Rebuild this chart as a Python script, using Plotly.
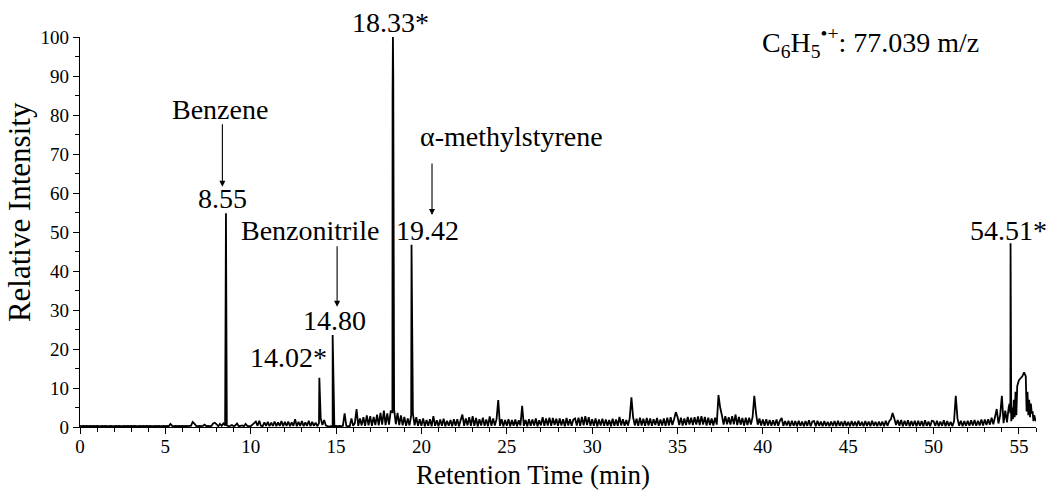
import plotly.graph_objects as go

# ---------------- data ----------------
# baseline signal on a 0.1-min grid (one row per minute: t.0 ... t.9)
baseline_rows = [
    [0.3, 0.2, 0.3, 0.2, 0.3, 0.2, 0.3, 0.2, 0.3, 0.2],   # 0
    [0.3, 0.2, 0.2, 0.3, 0.2, 0.3, 0.2, 0.2, 0.3, 0.2],   # 1
    [0.2, 0.3, 0.2, 0.3, 0.2, 0.2, 0.3, 0.2, 0.3, 0.2],   # 2
    [0.3, 0.2, 0.3, 0.2, 0.2, 0.3, 0.2, 0.3, 0.2, 0.3],   # 3
    [0.2, 0.3, 0.2, 0.2, 0.3, 0.2, 0.3, 0.2, 0.2, 0.3],   # 4
    [0.2, 0.3, 0.2, 0.8, 0.3, 0.2, 0.3, 0.2, 0.3, 0.2],   # 5
    [0.3, 0.2, 0.3, 0.2, 0.3, 0.3, 1.3, 0.9, 0.3, 0.2],   # 6
    [0.3, 0.2, 0.3, 0.6, 0.2, 0.3, 0.2, 0.3, 0.9, 1.1],   # 7
    [0.7, 0.2, 0.8, 0.3, 0.9, 0.4, 0.4, 0.2, 0.3, 0.5],   # 8
    [0.2, 0.4, 0.9, 0.2, 0.3, 0.4, 0.2, 0.8, 0.3, 0.2],   # 9
    [0.2, 0.6, 1.0, 1.4, 0.3, 1.6, 0.3, 0.2, 1.2, 0.3],   # 10
    [1.3, 0.2, 1.1, 0.3, 1.4, 0.2, 1.2, 0.3, 1.5, 0.2],   # 11
    [1.3, 0.3, 1.4, 0.2, 1.2, 0.3, 2.0, 0.2, 1.3, 0.3],   # 12
    [1.5, 0.2, 1.2, 0.3, 1.6, 0.2, 1.3, 0.3, 1.1, 0.2],   # 13
    [1.0, 2.2, 0.5, 1.8, 0.4, 0.2, 0.1, 0.2, 0.2, 0.2],   # 14
    [0.3, 0.2, 0.3, 0.2, 0.3, 3.5, 0.3, 0.2, 0.2, 2.2],   # 15
    [0.3, 1.0, 4.6, 0.3, 2.2, 0.4, 2.5, 0.3, 3.0, 0.4],   # 16
    [2.8, 0.3, 2.6, 0.5, 3.2, 0.4, 3.6, 0.6, 4.2, 0.5],   # 17
    [3.5, 0.6, 4.0, 3.8, 4.5, 0.7, 3.6, 0.5, 3.0, 0.4],   # 18
    [2.6, 0.3, 2.2, 0.4, 3.0, 3.5, 0.4, 2.5, 0.3, 2.0],   # 19
    [0.3, 2.2, 0.2, 1.8, 0.3, 2.0, 0.2, 2.8, 0.3, 1.7],   # 20
    [0.2, 1.9, 0.3, 2.1, 0.2, 1.6, 0.3, 1.8, 0.2, 2.0],   # 21
    [0.3, 2.0, 0.2, 1.8, 3.2, 0.3, 2.2, 0.4, 2.5, 0.3],   # 22
    [2.8, 0.3, 2.3, 0.2, 2.0, 0.4, 2.4, 0.3, 1.9, 0.2],   # 23
    [2.7, 0.3, 2.2, 0.4, 2.0, 6.9, 0.3, 2.0, 0.2, 1.8],   # 24
    [0.3, 2.0, 0.2, 1.8, 0.3, 1.9, 0.2, 1.7, 0.4, 5.4],   # 25
    [0.3, 1.8, 0.2, 2.0, 0.3, 1.9, 0.4, 2.2, 0.2, 1.7],   # 26
    [0.4, 2.5, 0.3, 2.2, 0.4, 2.4, 0.3, 2.3, 0.5, 2.1],   # 27
    [0.3, 2.2, 0.4, 2.0, 0.2, 2.3, 0.4, 2.0, 0.3, 1.9],   # 28
    [2.2, 0.4, 2.4, 0.3, 2.6, 0.4, 2.8, 0.5, 2.5, 0.3],   # 29
    [2.0, 0.3, 2.2, 0.2, 1.9, 0.4, 2.1, 0.3, 1.9, 0.3],   # 30
    [1.8, 0.2, 2.1, 0.3, 1.9, 0.3, 2.6, 0.4, 2.0, 0.3],   # 31
    [1.8, 0.4, 2.2, 7.6, 2.5, 0.4, 2.1, 0.3, 2.4, 0.4],   # 32
    [2.1, 0.3, 2.3, 0.4, 2.2, 0.3, 2.0, 0.5, 2.3, 0.3],   # 33
    [1.9, 0.4, 2.2, 0.3, 2.4, 0.4, 2.5, 0.5, 2.0, 3.8],   # 34
    [2.6, 0.5, 2.4, 0.4, 2.2, 0.5, 2.6, 0.6, 2.4, 0.5],   # 35
    [2.5, 0.6, 2.7, 0.5, 2.8, 0.6, 2.6, 0.4, 2.4, 0.5],   # 36
    [2.2, 0.4, 2.4, 0.6, 8.2, 5.0, 3.0, 0.6, 2.8, 0.7],   # 37
    [2.5, 0.6, 2.8, 0.7, 3.2, 0.5, 2.6, 0.6, 2.3, 0.4],   # 38
    [2.4, 0.5, 2.4, 0.6, 2.6, 8.0, 3.5, 0.6, 2.2, 0.4],   # 39
    [1.9, 0.3, 2.0, 0.4, 1.8, 0.3, 1.7, 0.4, 1.9, 0.3],   # 40
    [1.6, 2.3, 0.3, 1.5, 0.4, 1.6, 0.2, 1.6, 0.3, 1.5],   # 41
    [0.2, 1.6, 0.3, 1.4, 0.2, 1.5, 0.3, 1.7, 0.2, 1.4],   # 42
    [1.5, 0.2, 1.6, 0.3, 1.4, 0.2, 1.5, 0.3, 1.3, 0.2],   # 43
    [1.4, 0.3, 1.5, 0.2, 1.6, 0.3, 1.4, 0.2, 1.5, 0.3],   # 44
    [1.3, 0.2, 1.5, 0.3, 1.4, 0.2, 1.6, 0.3, 1.3, 0.2],   # 45
    [1.5, 0.3, 1.4, 0.2, 1.6, 0.3, 1.3, 0.2, 1.4, 0.3],   # 46
    [1.4, 0.2, 1.6, 0.3, 1.5, 2.0, 3.6, 2.2, 0.5, 1.8],   # 47
    [0.3, 1.8, 0.2, 1.6, 0.3, 1.7, 0.2, 1.5, 0.3, 1.6],   # 48
    [0.2, 1.6, 0.3, 1.5, 0.2, 1.7, 0.3, 1.4, 0.2, 1.6],   # 49
    [1.5, 0.3, 1.6, 0.2, 1.4, 0.3, 1.7, 0.2, 1.5, 0.3],   # 50
    [1.3, 0.2, 1.5, 8.0, 2.2, 0.3, 1.6, 0.2, 1.5, 0.3],   # 51
    [1.6, 0.3, 1.7, 0.4, 1.8, 0.3, 1.6, 0.4, 1.9, 0.4],   # 52
    [1.9, 0.5, 2.0, 0.6, 2.4, 0.7, 2.6, 4.6, 0.9, 3.0],   # 53
    [8.0, 1.0, 4.2, 1.2, 5.0, 3.5, 5.0, 7.0, 9.0, 10.5],  # 54
    [12.0, 12.5, 13.0, 14.0, 13.0, 9.0, 7.0, 6.0, 4.0, 3.0],  # 55
    [1.5],                                                  # 56.0
]

# labelled / sharp peaks (retention time, relative intensity)
peak_times = [8.55, 14.02, 14.80, 18.31, 18.33, 18.35, 19.42, 54.51]
peak_heights = [54.8, 12.6, 23.6, 85.0, 100.0, 90.0, 46.7, 47.1]

# extra detail points in the late-eluting hump
hump_times = [54.45, 54.55, 54.65, 54.75, 54.85, 55.45, 55.55, 55.65, 55.75, 55.85, 55.95]
hump_heights = [6.0, 1.5, 2.0, 2.5, 3.0, 4.0, 3.0, 2.5, 3.5, 1.5, 2.0]

x_ticks = [0, 5, 10, 15, 20, 25, 30, 35, 40, 45, 50, 55]
y_ticks = [0, 10, 20, 30, 40, 50, 60, 70, 80, 90, 100]

# ---------------- assemble series ----------------
pts = []
for minute, row in enumerate(baseline_rows):
    for k, v in enumerate(row):
        pts.append((round(minute + k / 10.0, 2), v))
pts += list(zip(peak_times, peak_heights))
pts += list(zip(hump_times, hump_heights))
pts.sort(key=lambda p: p[0])
t_vals = [p[0] for p in pts]
i_vals = [p[1] for p in pts]

FONT = "Liberation Serif"

fig = go.Figure()
fig.add_trace(go.Scatter(
    x=t_vals, y=i_vals, mode="lines",
    line=dict(color="black", width=1.8, simplify=False),
    hoverinfo="skip", showlegend=False,
))

ann_font = dict(family=FONT, size=28, color="black")
labels = [
    ("Benzene", 8.20, 81.4),
    ("8.55", 8.32, 58.5),
    ("Benzonitrile", 13.47, 50.5),
    ("19.42", 20.33, 50.5),
    ("14.80", 14.91, 27.2),
    ("14.02*", 12.24, 17.7),
    ("54.51*", 54.36, 50.5),
    ("\u03b1-methylstyrene", 25.25, 74.6),
    ("C<sub>6</sub>H<sub>5</sub><sup>\u2022+</sup>: 77.039 m/z", 46.3, 98.7),
]
annotations = []
for txt, xx, yy in labels:
    annotations.append(dict(text=txt, x=xx, y=yy, xref="x", yref="y",
                            showarrow=False, font=ann_font,
                            xanchor="center", yanchor="middle"))
# top label sits above the y range -> paper reference in y
annotations.append(dict(text="18.33*", x=18.16, y=1.036, xref="x", yref="paper",
                        showarrow=False, font=ann_font,
                        xanchor="center", yanchor="middle"))

arrows = [
    (8.34, 61.6, -64),
    (15.06, 30.85, -62),
    (20.62, 54.36, -53),
]
for xx, yy, ay in arrows:
    annotations.append(dict(text="", x=xx, y=yy, xref="x", yref="y",
                            showarrow=True, ax=0, ay=ay, axref="pixel", ayref="pixel",
                            arrowhead=2, arrowsize=1.1, arrowwidth=1.1,
                            arrowcolor="black", standoff=0))

annotations.append(dict(text="Retention Time (min)", x=0.474, y=-0.122,
                        xref="paper", yref="paper", showarrow=False,
                        font=dict(family=FONT, size=27, color="black"),
                        xanchor="center", yanchor="middle"))
annotations.append(dict(text="Relative Intensity", x=-0.0638, y=0.551,
                        xref="paper", yref="paper", showarrow=False, textangle=-90,
                        font=dict(family=FONT, size=31, color="black"),
                        xanchor="center", yanchor="middle"))

fig.update_layout(
    width=1051, height=493,
    margin=dict(l=80, r=15, t=37, b=66),
    paper_bgcolor="white", plot_bgcolor="white",
    font=dict(family=FONT, size=19, color="black"),
    annotations=annotations,
    xaxis=dict(range=[0, 56], tickvals=x_ticks, ticks="outside", ticklen=6,
               tickwidth=1.2, tickcolor="black", showline=True, linecolor="black",
               linewidth=1.3, showgrid=False, zeroline=False,
               ticklabelstandoff=-4,
               tickfont=dict(family=FONT, size=19, color="black"),
               minor=dict(dtick=1, tick0=0, ticks="outside", ticklen=4,
                          tickwidth=1, tickcolor="black", showgrid=False)),
    yaxis=dict(range=[0, 100], tickvals=y_ticks, ticks="outside", ticklen=6,
               tickwidth=1.2, tickcolor="black", showline=True, linecolor="black",
               linewidth=1.3, showgrid=False, zeroline=False,
               tickfont=dict(family=FONT, size=19, color="black"),
               minor=dict(dtick=5, tick0=0, ticks="outside", ticklen=4,
                          tickwidth=1, tickcolor="black", showgrid=False)),
)

fig.write_html("out.html")
